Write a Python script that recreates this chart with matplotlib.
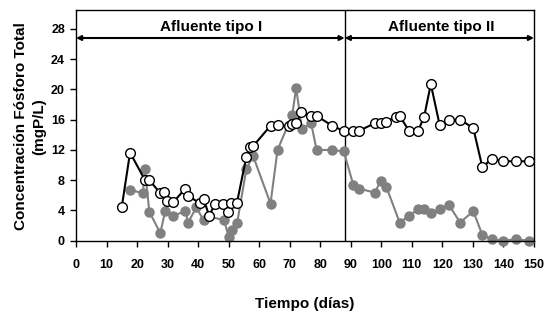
import matplotlib
matplotlib.use('Agg')
import matplotlib.pyplot as plt

plt.rcParams['font.family'] = ['Liberation Sans', 'DejaVu Sans']
plt.rcParams['font.weight'] = 'bold'

# Fosforo total - serie negra (circulos abiertos)
dias_a = [15, 17.7, 22.6, 24.0, 27.6, 28.8, 29.8, 31.9, 35.8, 36.7, 40.7, 41.8,
          43.6, 45.6, 48.3, 49.8, 50.8, 52.7, 55.8, 56.9, 58.0, 63.7, 66.1, 69.7,
          70.8, 72.1, 73.8, 76.8, 78.8, 83.9, 87.7, 90.8, 92.6, 97.9, 99.8, 101.6,
          104.7, 106.0, 109.1, 112.0, 114.0, 116.2, 119.1, 122.2, 125.8, 130.1,
          133.1, 136.1, 139.9, 144.0, 148.2]
pt_a = [4.5, 11.65, 8.0, 8.0, 6.3, 6.4, 5.3, 5.1, 6.9, 5.9, 4.95, 5.5,
        3.3, 4.9, 4.9, 3.8, 5.0, 5.0, 11.1, 12.4, 12.5, 15.2, 15.3, 15.1,
        15.4, 15.55, 16.95, 16.5, 16.5, 15.2, 14.5, 14.5, 14.5, 15.55, 15.55, 15.7,
        16.4, 16.5, 14.5, 14.5, 16.35, 20.7, 15.3, 16.0, 16.0, 14.9,
        9.7, 10.8, 10.5, 10.5, 10.5]

# Fosforo total - serie gris (circulos rellenos)
dias_b = [17.7, 21.9, 22.6, 24.0, 27.6, 29.2, 31.9, 35.8, 36.7, 39.4, 41.8,
          43.7, 48.5, 50.0, 51.0, 52.8, 55.8, 58.0, 63.7, 66.0, 70.8, 72.1,
          74.0, 77.0, 78.8, 83.8, 87.7, 90.8, 92.6, 97.9, 99.8, 101.6, 106.0,
          109.1, 112.0, 114.0, 116.2, 119.1, 122.2, 125.8, 130.1, 133.1, 136.1,
          139.9, 144.0, 148.2]
pt_b = [6.7, 6.3, 9.45, 3.85, 1.0, 3.9, 3.3, 3.9, 2.4, 4.4, 2.7,
        3.2, 2.7, 0.5, 1.4, 2.4, 9.5, 11.2, 4.9, 12.0, 16.6, 20.2,
        14.75, 15.55, 12.0, 12.0, 11.8, 7.4, 6.9, 6.35, 7.95, 7.15, 2.4,
        3.3, 4.15, 4.15, 3.7, 4.15, 4.7, 2.4, 3.9, 0.75, 0.2,
        0.0, 0.2, 0.0]

cambio = 88
etiquetas = ['Afluente tipo I', 'Afluente tipo II']

fig = plt.figure(figsize=(5.52, 3.16), dpi=100)
ax = fig.add_axes([0.1377, 0.2383, 0.8297, 0.7300])

ax.plot(dias_b, pt_b, '-o', color='#808080', mfc='#808080', mec='#808080',
        lw=1.5, ms=6.5, zorder=2, clip_on=False)
ax.plot(dias_a, pt_a, '-o', color='black', mfc='white', mec='black',
        lw=1.5, mew=1.0, ms=7, zorder=3, clip_on=False)

ax.axvline(cambio, color='black', lw=1.0, zorder=1)

y_flecha = 26.8
for x0, x1 in [(0, cambio), (cambio, 150)]:
    ax.annotate('', xy=(x0, y_flecha), xytext=(x1, y_flecha),
                arrowprops=dict(arrowstyle='<|-|>', color='black', lw=1.5,
                                mutation_scale=7, shrinkA=0, shrinkB=0))
ax.text(44.3, 28.2, etiquetas[0], ha='center', va='center', fontsize=11,
        fontweight='bold')
ax.text(119.5, 28.2, etiquetas[1], ha='center', va='center', fontsize=11,
        fontweight='bold')

ax.set_xlim(0, 150)
ax.set_ylim(0, 30.5)
ax.set_xticks(range(0, 151, 10))
ax.set_yticks(range(0, 29, 4))
ax.tick_params(axis='both', labelsize=9, direction='out', length=4,
               width=1.0)
ax.tick_params(axis='x', pad=9)
ax.tick_params(axis='y', pad=4)
for lbl in ax.get_xticklabels() + ax.get_yticklabels():
    lbl.set_fontweight('bold')
for s in ax.spines.values():
    s.set_linewidth(1.0)

ax.set_xlabel('Tiempo (días)', fontsize=11, fontweight='bold')
ax.xaxis.set_label_coords(0.5, -0.245)
ax.set_ylabel('Concentración Fósforo Total\n(mgP/L)', fontsize=11,
              fontweight='bold', linespacing=1.35)
ax.yaxis.set_label_coords(-0.065, 0.495)

fig.savefig('out.png', dpi=100)
